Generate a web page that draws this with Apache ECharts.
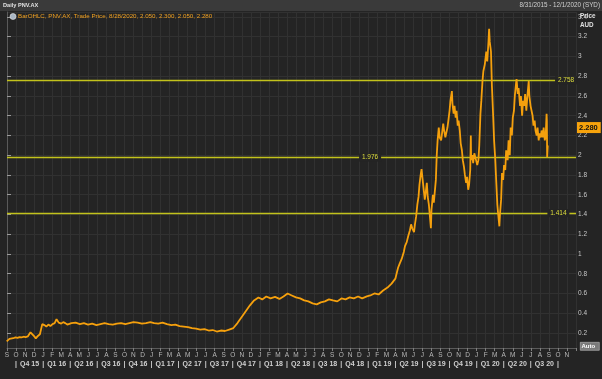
<!DOCTYPE html>
<html>
<head>
<meta charset="utf-8">
<script src="https://cdn.jsdelivr.net/npm/echarts@6/dist/echarts.min.js"></script>
<style>
html,body{margin:0;padding:0;background:#242424;}
#c{width:602px;height:379px;}
</style>
</head>
<body>
<div id="c"></div>
<script>
// ---------------- DATA ----------------
const DATES = [
 '2015-08-31','2015-09-04','2015-09-09','2015-09-15','2015-09-22','2015-09-29','2015-10-06','2015-10-13','2015-10-20','2015-10-27',
 '2015-11-03','2015-11-10','2015-11-16','2015-11-19','2015-11-24','2015-12-01','2015-12-07','2015-12-14','2015-12-21','2015-12-29',
 '2016-01-05','2016-01-12','2016-01-19','2016-01-26','2016-02-02','2016-02-09','2016-02-15','2016-02-22','2016-03-01','2016-03-08',
 '2016-03-15','2016-03-22','2016-04-05','2016-04-19','2016-05-03','2016-05-17','2016-05-31','2016-06-14','2016-06-28','2016-07-12',
 '2016-07-26','2016-08-09','2016-08-23','2016-09-06','2016-09-20','2016-10-04','2016-10-18','2016-11-01','2016-11-15','2016-11-29',
 '2016-12-13','2016-12-28',
 '2017-01-10','2017-01-24','2017-02-07','2017-02-21','2017-03-07','2017-03-21','2017-04-04','2017-04-18','2017-05-02','2017-05-16',
 '2017-05-30','2017-06-13','2017-06-27','2017-07-11','2017-07-25','2017-08-08','2017-08-22','2017-09-05','2017-09-19','2017-10-03',
 '2017-10-17','2017-10-31','2017-11-14','2017-11-28','2017-12-12','2017-12-27',
 '2018-01-09','2018-01-23','2018-02-06','2018-02-20','2018-03-06','2018-03-20','2018-04-03','2018-04-17','2018-05-01','2018-05-15',
 '2018-05-29','2018-06-12','2018-06-26','2018-07-10','2018-07-24','2018-08-07','2018-08-21','2018-09-04','2018-09-18','2018-10-02',
 '2018-10-16','2018-10-30','2018-11-13','2018-11-27','2018-12-11','2018-12-27',
 '2019-01-08','2019-01-22','2019-02-05','2019-02-19','2019-03-05','2019-03-19','2019-04-01','2019-04-05','2019-04-10','2019-04-15',
 '2019-04-22','2019-04-29','2019-05-03','2019-05-09','2019-05-14','2019-05-20','2019-05-24','2019-05-28','2019-06-03','2019-06-06',
 '2019-06-10','2019-06-14','2019-06-18','2019-06-21','2019-06-25','2019-06-28','2019-07-02','2019-07-05','2019-07-09','2019-07-12',
 '2019-07-16','2019-07-19','2019-07-23','2019-07-26','2019-07-30','2019-08-01','2019-08-06','2019-08-09','2019-08-13','2019-08-16',
 '2019-08-19','2019-08-22','2019-08-26','2019-08-29','2019-09-03','2019-09-06','2019-09-10','2019-09-13','2019-09-17','2019-09-20',
 '2019-09-24','2019-09-27','2019-10-01','2019-10-04','2019-10-09','2019-10-11','2019-10-15','2019-10-18','2019-10-22','2019-10-25',
 '2019-10-29','2019-11-01','2019-11-05','2019-11-08','2019-11-12','2019-11-15','2019-11-19','2019-11-22','2019-11-26','2019-11-29',
 '2019-12-03','2019-12-06','2019-12-10','2019-12-12','2019-12-13','2019-12-17','2019-12-20','2019-12-24','2019-12-30',
 '2020-01-03','2020-01-07','2020-01-10','2020-01-14','2020-01-17','2020-01-21','2020-01-24','2020-01-29','2020-02-03','2020-02-06',
 '2020-02-10','2020-02-12','2020-02-14','2020-02-18','2020-02-21','2020-02-25','2020-02-28','2020-03-03','2020-03-06','2020-03-10',
 '2020-03-13','2020-03-17','2020-03-19','2020-03-23','2020-03-26','2020-03-30','2020-04-02','2020-04-06','2020-04-09','2020-04-14',
 '2020-04-17','2020-04-21','2020-04-24','2020-04-28','2020-05-01','2020-05-05','2020-05-08','2020-05-12','2020-05-14','2020-05-18',
 '2020-05-21','2020-05-26','2020-05-29','2020-06-02','2020-06-05','2020-06-09','2020-06-12','2020-06-16','2020-06-19','2020-06-24',
 '2020-06-26','2020-06-30','2020-07-03','2020-07-07','2020-07-10','2020-07-14','2020-07-17','2020-07-21','2020-07-24','2020-07-28',
 '2020-07-31','2020-08-04','2020-08-07','2020-08-11','2020-08-14','2020-08-18','2020-08-21','2020-08-24','2020-08-25','2020-08-26',
 '2020-08-28'
];
const PRICES = [
 0.115,0.125,0.14,0.15,0.147,0.155,0.15,0.158,0.155,0.162,
 0.158,0.165,0.175,0.207,0.19,0.168,0.146,0.17,0.187,0.29,
 0.28,0.265,0.285,0.27,0.29,0.30,0.34,0.305,0.295,0.31,
 0.30,0.285,0.30,0.305,0.29,0.30,0.285,0.295,0.28,0.29,
 0.30,0.29,0.285,0.295,0.30,0.29,0.30,0.31,0.305,0.295,
 0.30,0.31,
 0.30,0.295,0.305,0.29,0.28,0.285,0.27,0.265,0.26,0.25,
 0.245,0.235,0.24,0.225,0.23,0.215,0.225,0.22,0.235,0.25,
 0.30,0.36,0.42,0.48,0.53,0.56,
 0.54,0.57,0.55,0.565,0.545,0.57,0.60,0.58,0.56,0.55,
 0.53,0.52,0.50,0.49,0.51,0.52,0.54,0.53,0.52,0.55,
 0.54,0.56,0.55,0.57,0.55,0.57,
 0.58,0.60,0.59,0.63,0.66,0.70,0.75,0.80,0.86,0.90,
 0.95,1.02,1.08,1.12,1.18,1.24,1.30,1.26,1.22,1.30,
 1.38,1.50,1.58,1.70,1.80,1.86,1.74,1.66,1.55,1.62,
 1.72,1.58,1.50,1.40,1.26,1.45,1.60,1.52,1.50,1.75,
 2.00,2.15,2.28,2.18,2.15,2.22,2.32,2.25,2.18,2.20,
 2.28,2.35,2.45,2.55,2.65,2.52,2.42,2.50,2.38,2.45,
 2.30,2.35,2.25,2.12,2.05,1.95,1.88,1.80,1.72,1.78,
 1.65,1.70,1.85,2.20,1.95,2.00,1.92,2.02,1.95,
 1.90,1.95,2.10,2.42,2.55,2.75,2.85,2.92,3.05,2.95,
 3.15,3.28,3.15,3.05,2.70,2.40,2.15,1.95,1.75,1.50,
 1.40,1.28,1.40,1.55,1.82,1.75,1.90,1.85,2.05,1.95,
 2.15,2.00,2.28,2.20,2.38,2.45,2.60,2.72,2.77,2.62,
 2.68,2.50,2.60,2.40,2.55,2.50,2.62,2.45,2.58,2.75,
 2.60,2.50,2.50,2.40,2.30,2.35,2.25,2.20,2.28,2.15,
 2.22,2.18,2.25,2.18,2.28,2.15,2.20,2.42,2.35,1.98,2.10,
 2.28
];
const MONTH_LETTERS = ['S','O','N','D','J','F','M','A','M','J','J','A']; // starting Sep 2015
const LEVELS = [2.758, 1.976, 1.414];
const LEVEL_TEXT = ['2.758', '1.976', '1.414'];
const LAST_PRICE = 2.28;
const LAST_TEXT = '2.280';
const LEGEND_TEXT = 'BarOHLC, PNV.AX, Trade Price, 8/28/2020, 2.050, 2.300, 2.050, 2.280';

// style constants (label anchor positions, in month index units)
const LEVEL_LABEL_AT = [61.9, 40.2, 61.05];

function monthIdx(s){
  const p = s.split('-').map(Number);
  const dim = new Date(p[0], p[1], 0).getDate();
  return (p[0]-2015)*12 + (p[1]-9) + (p[2]-1)/dim;
}
const seriesData = DATES.map((d,i)=>[monthIdx(d), PRICES[i]]);

const FONT = 'Liberation Sans, Arial, sans-serif';
const PLOT_BG = '#242424';
const LEVEL_COLOR = '#c2c21c';
const LEVEL_TXT = '#dede3c';

function quarterLabel(v){
  const r = Math.round(v*2)/2;
  if (Number.isInteger(r) && r >= 1 && (r-1) % 3 === 0 && r <= 61) return '|';
  const q0 = r - 1.5;
  if (Number.isInteger(q0) && q0 >= 1 && (q0-1) % 3 === 0 && q0 + 3 <= 63) {
    const y = 2015 + Math.floor((q0 + 8) / 12);
    const m = (q0 + 8) % 12;
    const q = Math.floor(m/3) + 1;
    return 'Q' + q + ' ' + String(y).slice(2);
  }
  return '';
}

const chart = echarts.init(document.getElementById('c'), null, {renderer:'canvas'});
chart.setOption({
  animation: false,
  backgroundColor: PLOT_BG,
  textStyle: {fontFamily: FONT},
  grid: {left: 7, right: 26, top: 12, bottom: 31, show: true, backgroundColor: PLOT_BG, borderWidth: 0},
  xAxis: [{
    type: 'value', min: 0, max: 63, interval: 1, position: 'bottom',
    axisLine: {show: true, lineStyle: {color: '#5a5a5a'}},
    axisTick: {show: true, length: 3, lineStyle: {color: '#808080'}},
    axisLabel: {color: '#b8b8b8', fontSize: 6.5, fontFamily: FONT, margin: 4,
      formatter: v => (v >= 63 ? '' : MONTH_LETTERS[((Math.round(v) % 12) + 12) % 12])},
    splitLine: {show: true, lineStyle: {color: '#313131'}}
  }, {
    type: 'value', min: 0, max: 63, interval: 0.5, position: 'bottom', offset: 9,
    axisLine: {show: false}, axisTick: {show: false}, splitLine: {show: false},
    axisLabel: {color: '#d0d0d0', fontSize: 7, fontWeight: 'bold', fontFamily: FONT, margin: 4,
      formatter: quarterLabel}
  }],
  yAxis: {
    type: 'value', position: 'right', min: 0.048, max: 3.45, splitNumber: 17,
    axisLine: {show: true, lineStyle: {color: '#5a5a5a'}},
    axisTick: {show: true, length: 4, lineStyle: {color: '#9a9a9a'}},
    axisLabel: {color: '#c8c8c8', fontSize: 6.5, fontFamily: FONT, margin: 2,
      showMinLabel: false, showMaxLabel: false,
      formatter: v => {
        if (Math.abs(v*5 - Math.round(v*5)) > 1e-6) return '';
        const r = Math.round(v*10)/10;
        return Number.isInteger(r) ? String(r) : r.toFixed(1);
      }},
    splitLine: {show: true, lineStyle: {color: '#313131'}}
  },
  series: [{
    type: 'line',
    data: seriesData,
    showSymbol: false,
    symbol: 'none',
    lineStyle: {color: '#f5a00d', width: 1.8},
    z: 3,
    markLine: {
      silent: true, symbol: 'none', z: 2,
      lineStyle: {color: LEVEL_COLOR, width: 1.4, type: 'solid', opacity: 1},
      label: {show: false},
      emphasis: {disabled: true},
      data: LEVELS.map(v => ({yAxis: v, lineStyle: {color: LEVEL_COLOR, width: 1.4, type: 'solid'}}))
        .concat([{yAxis: LAST_PRICE, lineStyle: {color: 'rgba(0,0,0,0)', width: 0},
          label: {show: true, position: 'end', formatter: LAST_TEXT, backgroundColor: '#f7a30c', color: '#111',
            fontSize: 7.5, fontWeight: 'bold', fontFamily: FONT, padding: [2, 3, 1, 2], distance: 1, opacity: 1}}])
    },
    markPoint: {
      silent: true, z: 10,
      data: LEVELS.map((v, i) => ({
        coord: [LEVEL_LABEL_AT[i], v], symbol: 'rect', symbolSize: [22, 8],
        itemStyle: {color: PLOT_BG},
        label: {show: true, position: 'inside', formatter: LEVEL_TEXT[i], color: LEVEL_TXT, fontSize: 6.5, fontFamily: FONT}
      }))
    }
  }],
  graphic: [
    {type: 'rect', left: 0, top: 0, shape: {width: 602, height: 11}, style: {fill: '#3a3a3a'}, z: 20},
    {type: 'text', left: 3, top: 2.5, style: {text: 'Daily PNV.AX', fill: '#e0e0e0', font: 'bold 5.6px ' + FONT}, z: 21},
    {type: 'text', right: 2, top: 2.5, style: {text: '8/31/2015 - 12/1/2020 (SYD)', fill: '#cfcfcf', font: '6.3px ' + FONT}, z: 21},
    {type: 'text', left: 580, top: 13, style: {text: 'Price', fill: '#e0e0e0', font: 'bold 6.3px ' + FONT}, z: 21},
    {type: 'text', left: 580, top: 22, style: {text: 'AUD', fill: '#e0e0e0', font: 'bold 6.3px ' + FONT}, z: 21},
    {type: 'circle', shape: {cx: 13, cy: 16.5, r: 3}, style: {fill: '#a9b6c4', stroke: '#e8e8e8', lineWidth: 0.6}, z: 21},
    {type: 'text', left: 18, top: 13.5, style: {text: LEGEND_TEXT, fill: '#f0a020', font: '6.2px ' + FONT}, z: 21},
    {type: 'rect', left: 580, top: 342, shape: {width: 19, height: 8}, style: {fill: '#7a7a7a', stroke: '#bdbdbd', lineWidth: 0.6}, z: 21},
    {type: 'text', left: 581.5, top: 343, style: {text: 'Auto', fill: '#ffffff', font: 'bold 6px ' + FONT}, z: 22}
  ]
});
</script>
</body>
</html>
